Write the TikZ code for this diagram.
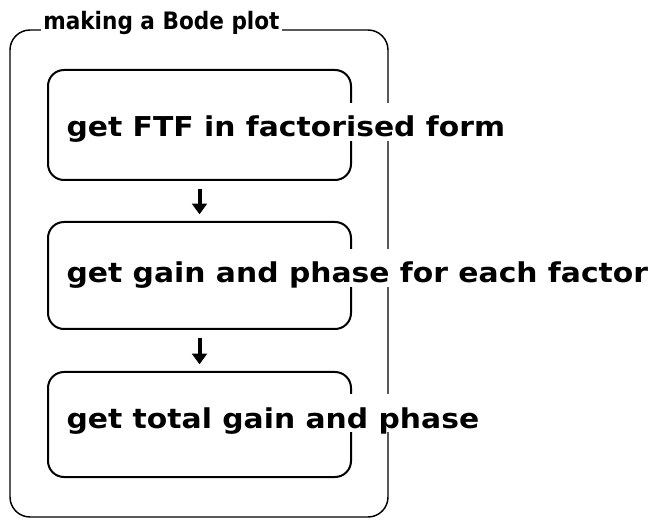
\documentclass[tikz,border=0pt]{standalone}
\usepackage{fontspec}
\usetikzlibrary{arrows.meta}
\newfontfamily\stepfont{DejaVu Sans}[FakeStretch=1.09]
\newfontfamily\titlefont{DejaVu Sans}[FakeStretch=0.9]
\begin{document}
\begin{tikzpicture}[x=0.75pt,y=-0.75pt,
  frame/.style={draw, line width=1.1pt, rounded corners=15pt,
    minimum width=283.5pt, minimum height=365.25pt, inner sep=0pt},
  stepbox/.style={draw, line width=1.5pt, rounded corners=12pt,
    minimum width=227.25pt, inner sep=0pt},
  steptext/.style={anchor=base west, fill=white, inner xsep=1pt, inner ysep=0pt,
    text height=25.5pt, text depth=3pt,
    font=\stepfont\bfseries\fontsize{20.5pt}{24pt}\selectfont},
  heading/.style={anchor=base west, fill=white, inner xsep=1.5pt, inner ysep=0pt,
    font=\titlefont\bfseries\fontsize{18pt}{20pt}\selectfont},
  flow/.style={line width=3pt, -{Triangle[width=11pt,length=8pt]},
    shorten <=6pt, shorten >=5pt}]
\useasboundingbox (0,0) rectangle (650,520);

% enclosing frame
\node[frame] (outer) at (199,273.5) {};

% the three step boxes
\node[stepbox, minimum height=82.5pt]  (b1) at (199.5,125)   {};
\node[stepbox, minimum height=80.25pt] (b2) at (199.5,275.5) {};
\node[stepbox, minimum height=78.75pt] (b3) at (199.5,424.5) {};

% frame title, sitting on the top edge
\node[heading] (title) at (41,30) {making a Bode plot};

% step labels, set on white so they cut through the borders
\node[steptext] (t1) at (65,137) {get FTF in factorised form};
\node[steptext] (t2) at (65,283) {get gain and phase for each factor};
\node[steptext] (t3) at (65,428) {get total gain and phase};

% flow between steps
\draw[flow] (b1.south) -- (b2.north);
\draw[flow] (b2.south) -- (b3.north);
\end{tikzpicture}
\end{document}
